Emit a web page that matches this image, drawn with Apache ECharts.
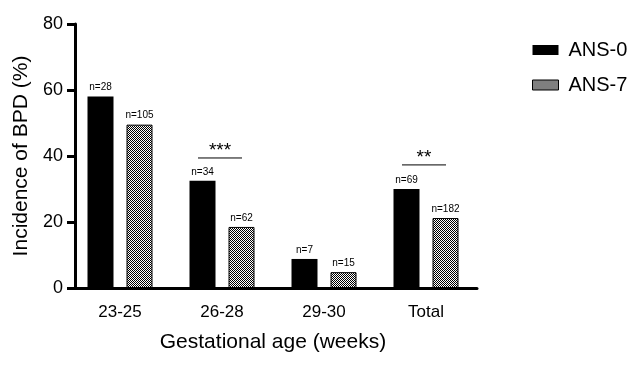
<!DOCTYPE html>
<html><head><meta charset="utf-8">
<script src="https://cdn.jsdelivr.net/npm/echarts@6/dist/echarts.min.js"></script>
<style>html,body{margin:0;padding:0;background:#fff}#c{width:643px;height:368px}</style>
</head><body><div id="c"></div>
<script>
const categories = ['23-25', '26-28', '29-30', 'Total'];
const ans0 = [58, 32.5, 8.8, 30];
const ans7 = [49.5, 18.5, 4.8, 21.2];
const n0 = [28, 34, 7, 69];
const n7 = [105, 62, 15, 182];
const yTicks = [0, 20, 40, 60, 80];
// significance: [category index, bracket value, stars]
const sigCats = [1, 3];
const sigLevels = [39.4, 37.3];
const sigStars = ['***', '**'];

const FONT = 'Arial, "Liberation Sans", sans-serif';

function checker() {
  const cv = document.createElement('canvas');
  cv.width = 4; cv.height = 4;
  const g = cv.getContext('2d');
  g.fillStyle = '#fff'; g.fillRect(0, 0, 4, 4);
  g.fillStyle = '#000';
  g.fillRect(0, 0, 1, 1); g.fillRect(2, 0, 1, 1);
  g.fillRect(1, 1, 1, 1); g.fillRect(3, 1, 1, 1);
  g.fillRect(0, 2, 1, 1); g.fillRect(2, 2, 1, 1);
  g.fillRect(1, 3, 1, 1); g.fillRect(3, 3, 1, 1);
  return cv;
}
const pattern = { image: checker(), repeat: 'repeat' };

const chart = echarts.init(document.getElementById('c'), null, { renderer: 'canvas' });
const labelOpt = (arr) => ({
  show: true, position: 'top', distance: 4,
  formatter: (p) => 'n=' + arr[p.dataIndex],
  fontSize: 10, color: '#000', fontFamily: FONT
});
const option = {
  animation: false,
  backgroundColor: '#fff',
  grid: { left: 69, right: 166, top: 24, bottom: 80 },
  legend: {
    orient: 'vertical', left: 527, top: 35,
    icon: 'rect',
    itemWidth: 26, itemHeight: 10, itemGap: 15,
    textStyle: { fontSize: 20, fontFamily: FONT, color: '#000', padding: [0, 0, 0, 5] },
    data: [
      { name: 'ANS-0', itemStyle: { color: '#000' } },
      { name: 'ANS-7', itemStyle: { color: pattern, borderColor: '#000', borderWidth: 1 } }
    ]
  },
  xAxis: {
    type: 'category', data: categories,
    name: 'Gestational age (weeks)', nameLocation: 'middle', nameGap: 44,
    nameTextStyle: { fontSize: 21, fontFamily: FONT, color: '#000' },
    axisLine: { lineStyle: { color: '#000', width: 3 } },
    axisTick: { alignWithLabel: true, length: 8, lineStyle: { width: 3, color: '#000' } },
    axisLabel: { fontSize: 17, fontFamily: FONT, color: '#000', margin: 16 }
  },
  yAxis: {
    type: 'value', min: 0, max: 80, interval: 20, offset: -6,
    name: 'Incidence of BPD (%)', nameLocation: 'middle', nameGap: 40,
    nameTextStyle: { fontSize: 21, fontFamily: FONT, color: '#000' },
    axisLine: { show: true, lineStyle: { color: '#000', width: 3 } },
    axisTick: { show: true, length: 8, lineStyle: { width: 3, color: '#000' } },
    axisLabel: { fontSize: 18, fontFamily: FONT, color: '#000', margin: 12,
      formatter: (v) => yTicks.includes(v) ? String(v) : '' },
    splitLine: { show: false }
  },
  series: [
    { name: 'ANS-0', type: 'bar', data: ans0, barWidth: 26, barGap: '50%',
      itemStyle: { color: '#000' }, label: labelOpt(n0) },
    { name: 'ANS-7', type: 'bar', data: ans7, barWidth: 26,
      itemStyle: { color: pattern, borderColor: '#000', borderWidth: 1 }, label: labelOpt(n7) }
  ]
};
chart.setOption(option);

const graphics = [];
sigCats.forEach((ci, k) => {
  const c = chart.convertToPixel({ xAxisIndex: 0 }, ci);
  const y = chart.convertToPixel({ yAxisIndex: 0 }, sigLevels[k]);
  const x1 = c - 24, x2 = c + 20;
  graphics.push({ type: 'line', shape: { x1: x1, y1: y, x2: x2, y2: y },
    style: { stroke: '#000', lineWidth: 1 } });
  graphics.push({ type: 'text', x: (x1 + x2) / 2, y: y - 7,
    style: { text: sigStars[k], fill: '#000', font: '19px ' + FONT,
      textAlign: 'center', textVerticalAlign: 'middle' } });
});
chart.setOption({ graphic: graphics });
</script></body></html>
